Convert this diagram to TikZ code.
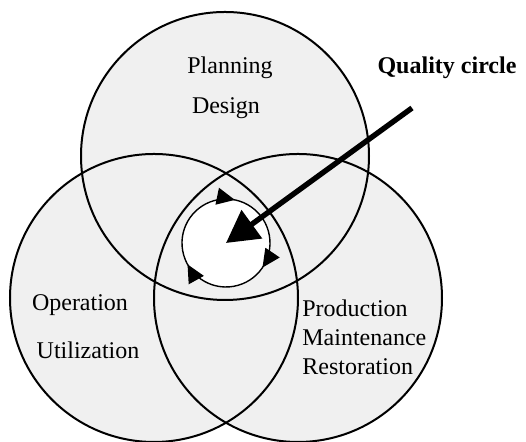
\documentclass[tikz,border=0pt]{standalone}
\usepackage{fontspec}
\setmainfont{Liberation Serif}
\usetikzlibrary{arrows.meta,decorations.markings}

\begin{document}
\begin{tikzpicture}[x=0.5pt,y=0.5pt,>={Triangle[length=9pt,width=8.5pt]},
    area/.style={line width=1pt},
    lbl/.style={inner sep=0pt,font=\fontsize{12}{14}\selectfont},
    turn/.style={decoration={markings,
        mark=at position 0.060 with {\arrow{>}},
        mark=at position 0.372 with {\arrow{>}},
        mark=at position 0.697 with {\arrow{>}}},postaction=decorate}]
          \useasboundingbox[fill=white] (0,0) rectangle (526,442);
          \coordinate (plan) at (225,286);
          \coordinate (oper) at (154,144);
          \coordinate (prod) at (298,144);
          \coordinate (qc) at (226,199);
          \coordinate (tail) at (412,334);

          \begin{scope}
            \clip (0,0) rectangle (526,442);
            \foreach \c in {plan,oper,prod}
              \fill[black!6] (\c) circle[radius=144];
            \foreach \c in {plan,oper,prod}
              \draw[area] (\c) circle[radius=144];
          \end{scope}

          \fill[white] (qc) circle[radius=44];
          \draw[line width=0.7pt,turn] (qc) ++(100:44) arc[start angle=100,end angle=-260,radius=44];

          \draw[line width=2.7pt,-{Triangle[length=16pt,width=17pt]}] (tail) -- (qc);

          \node[lbl] (planning) at (230,374) {Planning};
          \node[lbl] (design) at (226,334) {Design};
          \node[lbl,font=\fontsize{12}{14}\selectfont\bfseries] (quality) at (447,374) {Quality circle};
          \node[lbl] (operation) at (80,137) {Operation};
          \node[lbl] (utilization) at (88,92) {Utilization};
          \node[lbl,anchor=west] (production) at (302,134) {Production};
          \node[lbl,anchor=west] (maintenance) at (302,104) {Maintenance};
          \node[lbl,anchor=west] (restoration) at (302,75) {Restoration};
        \end{tikzpicture}
\end{document}
